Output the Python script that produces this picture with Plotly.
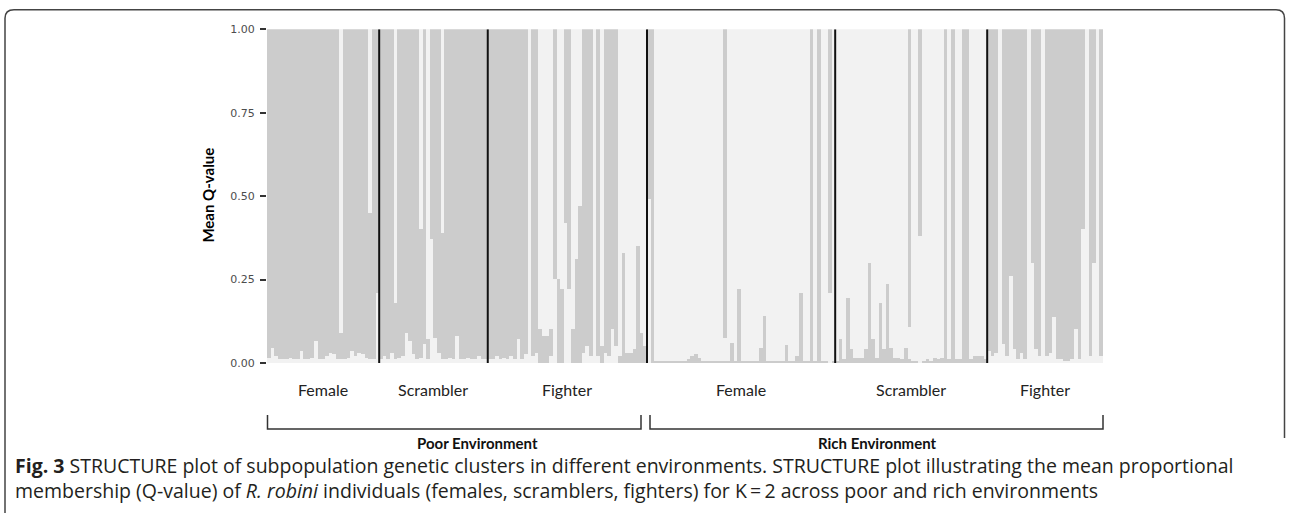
import plotly.graph_objects as go

# ---------------- data ----------------
group_names = ["Female", "Scrambler", "Fighter", "Female", "Scrambler", "Fighter"]
environment_names = ["Poor Environment", "Rich Environment"]
tick_values = [0.0, 0.25, 0.5, 0.75, 1.0]
tick_labels = ["0.00", "0.25", "0.50", "0.75", "1.00"]

# For every individual: height of the minority-cluster segment at the bottom (low)
# and of the minority-cluster segment hanging from the top (top).
poor_female_low = [0.015, 0.045, 0.02, 0.01, 0.01, 0.01, 0.015, 0.01, 0.01, 0.034, 0.01,
                   0.01, 0.015, 0.066, 0.01, 0.01, 0.02, 0.03, 0.025, 0.01, 0.01, 0.01,
                   0.015, 0.035, 0.02, 0.03, 0.025, 0.015, 0.01, 0.01, 0.21]
poor_female_top = [0, 0, 0, 0, 0, 0, 0, 0, 0, 0, 0, 0, 0, 0, 0, 0, 0, 0, 0, 0, 0.91, 0,
                   0, 0, 0, 0, 0, 0, 0.55, 0, 0]

poor_scrambler_low = [0.01, 0.02, 0.01, 0.03, 0.01, 0.015, 0.02, 0.088, 0.066, 0.025,
                      0.01, 0.015, 0.057, 0.01, 0.37, 0.075, 0.03, 0.01, 0.01, 0.015,
                      0.01, 0.08, 0.01, 0.01, 0.015, 0.01, 0.01, 0.02, 0.01, 0.01]
poor_scrambler_top = [0, 0, 0, 0, 0.82, 0, 0, 0, 0, 0, 0, 0.60, 0, 0.93, 0, 0, 0, 0.61,
                      0, 0, 0, 0, 0, 0, 0, 0, 0, 0, 0, 0]

poor_fighter_low = [0.01, 0.01, 0.02, 0.01, 0.015, 0.01, 0.02, 0.01, 0.07, 0.01, 0.025,
                    0, 0.02, 0.03, 0, 0, 0, 0.02, 0.25, 0, 0, 0.42, 0.22, 0, 0, 0,
                    0.03, 0.05, 0.02, 0, 0.02, 0, 0.03, 0.02, 0.1, 0.05, 0, 0, 0, 0,
                    0, 0, 0, 0]
poor_fighter_top = [0, 0, 0, 0, 0, 0, 0, 0, 0, 0, 0, 1.0, 0, 0, 0.90, 0.92, 0.92, 0.90,
                    0, 0.75, 0.78, 0, 0, 0.90, 0.69, 0.53, 0, 0, 0, 1.0, 0, 0.95, 0, 0,
                    0, 0, 0.98, 0.67, 0.97, 0.97, 0.96, 0.65, 0.91, 0.95]

rich_female_low = [0, 0, 0.005, 0.005, 0.005, 0.005, 0.005, 0.005, 0.005, 0.005, 0.005,
                   0.01, 0.02, 0.025, 0.015, 0.005, 0.005, 0.005, 0.005, 0.005, 0.005,
                   0.005, 0.005, 0.058, 0.005, 0.22, 0.005, 0.005, 0.005, 0.005, 0.005,
                   0.045, 0.14, 0.005, 0.005, 0.005, 0.005, 0.005, 0.054, 0.005, 0.005,
                   0.02, 0.21, 0.005, 0.005, 0, 0.005, 0, 0.005, 0.005, 0, 0.005]
rich_female_top = [0.51, 1.0, 0, 0, 0, 0, 0, 0, 0, 0, 0, 0, 0, 0, 0, 0, 0, 0, 0, 0, 0,
                   0.925, 0, 0, 0, 0, 0, 0, 0, 0, 0, 0, 0, 0, 0, 0, 0, 0, 0, 0, 0, 0,
                   0, 0, 0, 1.0, 0, 1.0, 0, 0, 0.79, 0]

rich_scrambler_low = [0.005, 0.072, 0.01, 0.195, 0.04, 0.015, 0.015, 0.015, 0.04, 0.30,
                      0.07, 0.015, 0.18, 0.04, 0.235, 0.045, 0.015, 0.015, 0.01, 0.045,
                      0.01, 0.005, 0.005, 0, 0.005, 0.01, 0.005, 0.015, 0.01, 0.015, 0,
                      0.01, 0, 0.01, 0.01, 0, 0, 0.01, 0.02, 0.02, 0.02, 0.01]
rich_scrambler_top = [0, 0, 0, 0, 0, 0, 0, 0, 0, 0, 0, 0, 0, 0, 0, 0, 0, 0, 0, 0, 0.894,
                      0, 0, 0.62, 0, 0, 0, 0, 0, 0, 1.0, 0, 1.0, 0, 0, 1.0, 1.0, 0, 0,
                      0, 0, 0]

rich_fighter_low = [0.035, 0.02, 0.03, 0, 0.055, 0.02, 0.26, 0.04, 0.01, 0.03, 0.01, 0,
                    0.30, 0.04, 0.02, 0, 0.02, 0.03, 0.136, 0.01, 0.01, 0.005, 0.005,
                    0.01, 0.10, 0.01, 0.40, 0, 0.02, 0.30, 0, 0.02]
rich_fighter_top = [0, 0, 0, 1.0, 0, 0, 0, 0, 0, 0, 0, 1.0, 0, 0, 0, 1.0, 0, 0, 0, 0, 0,
                    0, 0, 0, 0, 0, 0, 1.0, 0, 0, 1.0, 0]

group_low = [poor_female_low, poor_scrambler_low, poor_fighter_low,
             rich_female_low, rich_scrambler_low, rich_fighter_low]
group_top = [poor_female_top, poor_scrambler_top, poor_fighter_top,
             rich_female_top, rich_scrambler_top, rich_fighter_top]

caption_line1 = ("<b>Fig. 3</b> STRUCTURE plot of subpopulation genetic clusters in different "
                 "environments. STRUCTURE plot illustrating the mean proportional")
caption_line2 = ("membership (Q-value) of <i>R. robini</i> individuals (females, scramblers, "
                 "fighters) for K\u2009=\u20092 across poor and rich environments")

# ---------------- style ----------------
W, H = 1290, 520
DARK = "#cccccc"
LIGHT = "#f2f2f2"
group_major = [DARK, DARK, DARK, LIGHT, LIGHT, DARK]
X0_PX, X1_PX = 267, 1103


def ry(y_ref):
    # vertical placement correction measured from earlier renders
    return (y_ref - 5.8) / 0.973


Y_TOP_PX, Y_BOT_PX = ry(29), ry(362)


def px(x):
    return x / W


def py(y):
    return 1 - y / H


xs, lows, mids, tops = [], [], [], []
c_low, c_mid, c_top = [], [], []
bounds = [0]
for gi, (lo, tp) in enumerate(zip(group_low, group_top)):
    major = group_major[gi]
    minor = LIGHT if major == DARK else DARK
    for a, b in zip(lo, tp):
        xs.append(len(xs))
        lows.append(a)
        tops.append(b)
        mids.append(max(0.0, 1.0 - a - b))
        c_low.append(minor)
        c_mid.append(major)
        c_top.append(minor)
    bounds.append(len(xs))
N = len(xs)

fig = go.Figure()
for vals, cols in ((lows, c_low), (mids, c_mid), (tops, c_top)):
    fig.add_trace(go.Bar(x=xs, y=vals, width=1.0,
                         marker=dict(color=cols, line=dict(width=0)),
                         hoverinfo="skip", showlegend=False))

shapes = []
# group separators
for b in bounds[1:-1]:
    shapes.append(dict(type="line", xref="x", yref="y", x0=b - 0.5, x1=b - 0.5,
                       y0=0, y1=1, line=dict(color="#111111", width=2)))

annotations = []
bar_px = (X1_PX - X0_PX) / N

label_font = dict(family="Lato, Open Sans, sans-serif", size=16, color="#222222")
for gi, name in enumerate(group_names):
    center = (bounds[gi] + bounds[gi + 1] - 1) / 2
    annotations.append(dict(x=center, y=py(ry(389)), xref="x", yref="paper", text=name,
                            showarrow=False, font=label_font,
                            xanchor="center", yanchor="middle"))

# environment brackets
line_c = "#333333"
poor_end = bounds[3]
br_y_top, br_y_bot = py(ry(414)), py(ry(428))
brackets = [(X0_PX + 0.5, X0_PX + poor_end * bar_px - 6),
            (X0_PX + poor_end * bar_px + 3, X1_PX)]
for (a, b) in brackets:
    shapes.append(dict(type="path", xref="paper", yref="paper",
                       path=f"M {px(a)},{br_y_top} L {px(a)},{br_y_bot} L {px(b)},{br_y_bot} L {px(b)},{br_y_top}",
                       line=dict(color=line_c, width=1.5)))

env_font = dict(family="Lato, Open Sans, sans-serif", size=15, color="#111111")
annotations.append(dict(x=px(477), y=py(ry(442)), xref="paper", yref="paper",
                        text="<b>" + environment_names[0] + "</b>", showarrow=False,
                        font=env_font, xanchor="center", yanchor="middle"))
annotations.append(dict(x=px(877), y=py(ry(442)), xref="paper", yref="paper",
                        text="<b>" + environment_names[1] + "</b>", showarrow=False,
                        font=env_font, xanchor="center", yanchor="middle"))

# y axis title
annotations.append(dict(x=px(208), y=py(ry(195)), xref="paper", yref="paper",
                        text="<b>Mean Q-value</b>", textangle=-90, showarrow=False,
                        font=dict(family="Lato, Open Sans, sans-serif", size=15, color="#000000"),
                        xanchor="center", yanchor="middle"))

# caption (one two-line text block)
cap_font = dict(family="Open Sans, sans-serif", size=19.5, color="#231f20")
annotations.append(dict(x=px(13), y=py(ry(477)), xref="paper", yref="paper",
                        text=caption_line1 + "<br>" + caption_line2, align="left",
                        showarrow=False, font=cap_font, xanchor="left", yanchor="middle"))

# figure frame
frame_c = "#444444"
top_y, corner_y, right_end = py(ry(9.5)), py(ry(18)), py(ry(437))
shapes.append(dict(type="path", xref="paper", yref="paper",
                   path=(f"M {px(5)},{py(520)} L {px(5)},{corner_y} "
                         f"Q {px(5)},{top_y} {px(14)},{top_y} "
                         f"L {px(1276)},{top_y} Q {px(1284.5)},{top_y} {px(1284.5)},{corner_y} "
                         f"L {px(1284.5)},{right_end}"),
                   line=dict(color=frame_c, width=1.5)))

fig.update_layout(
    width=W, height=H,
    margin=dict(l=0, r=0, t=0, b=0),
    paper_bgcolor="white", plot_bgcolor="white",
    barmode="stack", bargap=0,
    shapes=shapes, annotations=annotations,
    xaxis=dict(domain=[px(X0_PX), px(X1_PX)], range=[-0.5, N - 0.5],
               showticklabels=False, ticks="", showgrid=False, zeroline=False,
               showline=False, fixedrange=True),
    yaxis=dict(domain=[py(Y_BOT_PX), py(Y_TOP_PX)], range=[0, 1],
               tickvals=tick_values, ticktext=tick_labels, ticks="outside",
               ticklen=6, tickwidth=2, tickcolor="#333333",
               tickfont=dict(family="DejaVu Sans, sans-serif", size=11, color="#4d4d4d"),
               showgrid=False, zeroline=False, showline=False, fixedrange=True,
               ticklabelstandoff=3),
)

page_fix = (
    "var h=document.documentElement,b=document.body;"
    "h.style.margin='0';b.style.margin='0';h.style.padding='0';b.style.padding='0';"
    "h.style.height='520px';b.style.height='520px';"
    "h.style.overflow='hidden';b.style.overflow='hidden';"
    "var g=document.getElementById('{plot_id}');"
    "g.style.position='fixed';g.style.top='0px';g.style.left='0px';"
)
fig.write_html("out.html", config={"displayModeBar": False}, post_script=page_fix)
